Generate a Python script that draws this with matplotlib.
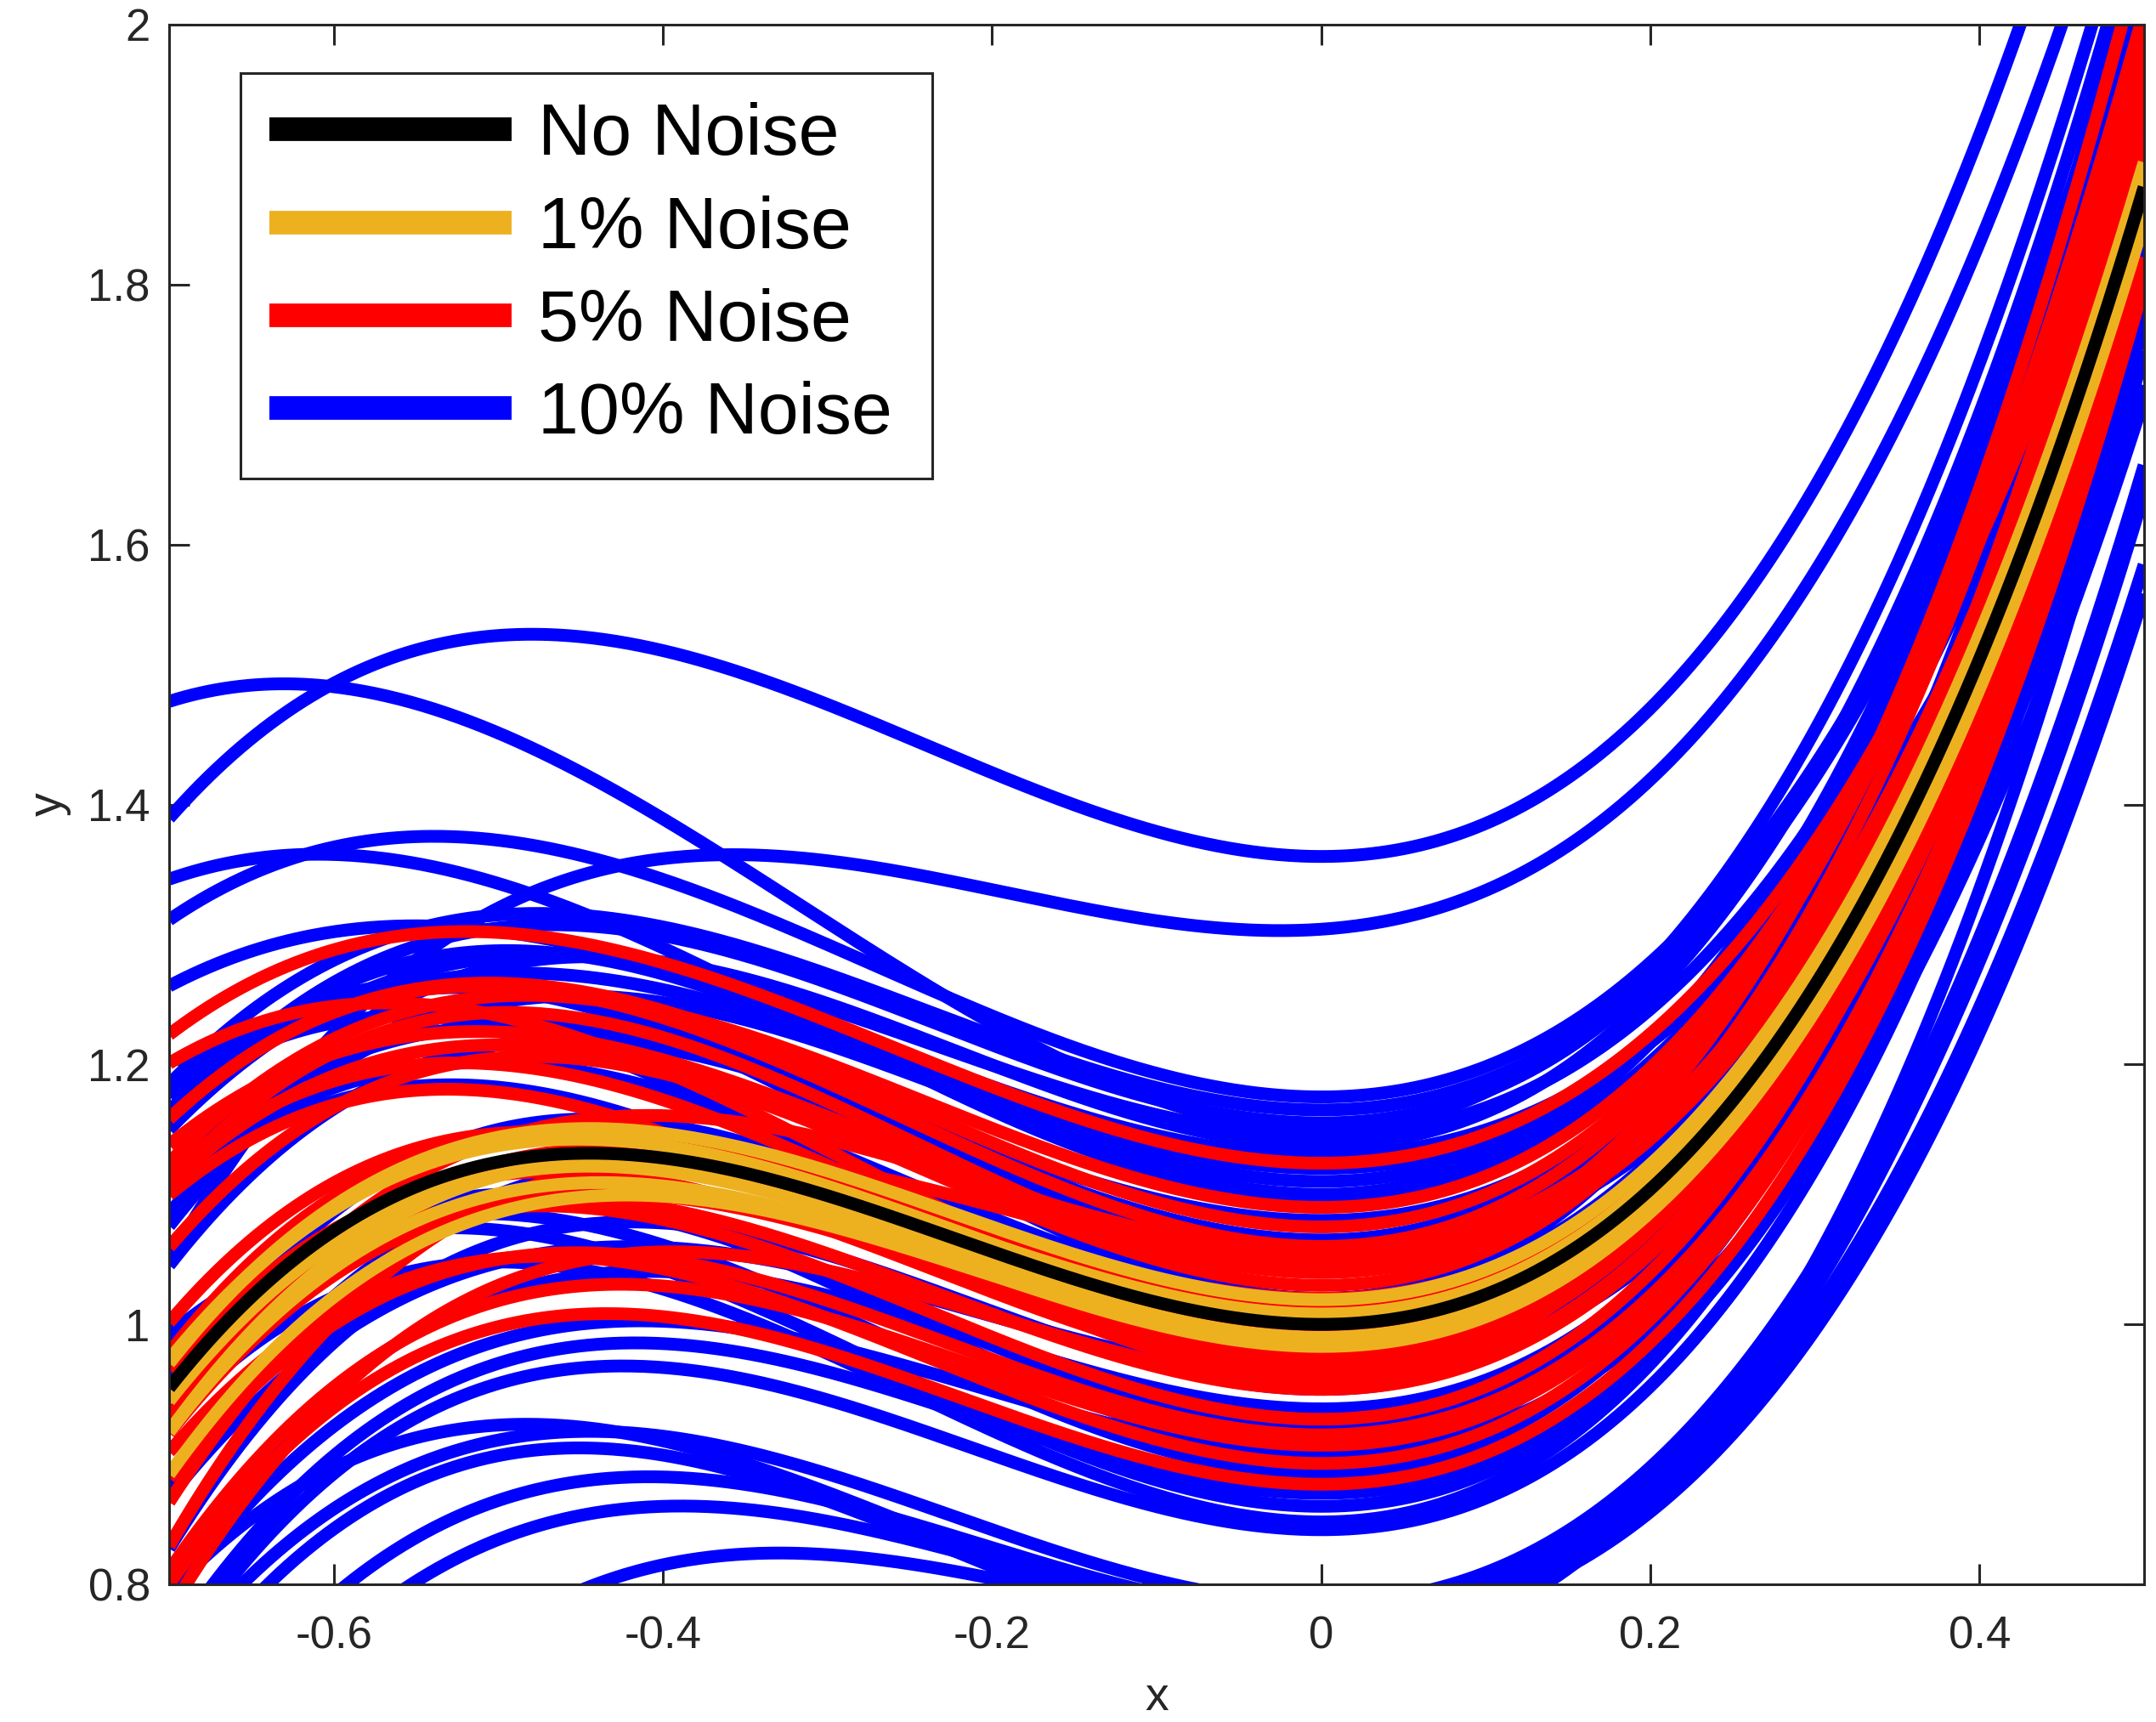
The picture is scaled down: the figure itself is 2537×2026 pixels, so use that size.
import numpy as np
import matplotlib
matplotlib.use("Agg")
from matplotlib import pyplot as plt
from matplotlib.lines import Line2D

plt.rcParams['font.family'] = ['Liberation Sans', 'DejaVu Sans']
plt.rcParams['axes.unicode_minus'] = False

# cubic fits, coefficients [c0, c1, c2, c3] for y = c0 + c1 x + c2 x^2 + c3 x^3
no_noise = [1.0, 0.0, 2.0, 3.0]

noise_1 = [
    [1.019, 0.0, 2.00, 3.00],
    [1.008, 0.0, 1.95, 3.05],
    [0.990, 0.0, 2.00, 3.00],
    [0.983, 0.0, 1.98, 3.02],
    [0.985, 0.0, 1.93, 3.05],
    [1.005, 0.0, 2.02, 2.98],
]

noise_5 = [
    [1.124, 0.0, 1.98, 2.54],
    [1.090, 0.0, 2.10, 2.90],
    [1.075, 0.0, 2.20, 2.90],
    [1.055, 0.0, 1.90, 3.10],
    [1.040, 0.0, 2.10, 2.80],
    [1.012, 0.0, 2.00, 3.10],
    [1.030, 0.0, 2.30, 3.20],
    [0.965, 0.0, 2.10, 3.00],
    [0.950, 0.0, 2.03, 2.90],
    [0.927, 0.0, 2.20, 3.10],
    [0.907, 0.0, 2.05, 3.21],
    [0.893, 0.0, 2.16, 3.06],
    [0.877, 0.0, 2.09, 3.21],
    [0.980, 0.0, 1.90, 2.90],
    [1.060, 0.0, 2.30, 3.00],
    [1.050, 0.0, 2.00, 2.60],
    [0.972, 0.0, 2.30, 3.20],
    [1.000, 0.0, 2.20, 2.80],
    [1.045, 0.0, 1.80, 3.20],
    [0.915, 0.0, 2.06, 3.04],
    [0.990, 0.0, 2.25, 3.25],
    [1.020, 0.0, 1.85, 3.10],
    [0.955, 0.0, 1.95, 3.30],
    [0.960, 0.0, 2.35, 2.95],
    [1.040, 0.0, 2.45, 3.30],
    [1.000, 0.0, 2.30, 2.70],
]

noise_10 = [
    [1.360, 0.000, 2.23, 3.10],
    [1.304, 0.085, 1.82, 3.17],
    [1.150, 0.000, 2.59, 2.74],
    [1.098, 0.000, 2.13, 2.33],
    [1.175, 0.000, 2.07, 2.56],
    [1.130, 0.000, 1.75, 2.12],
    [1.165, 0.000, 2.00, 2.80],
    [1.155, 0.000, 2.10, 3.00],
    [1.145, 0.000, 1.90, 2.70],
    [1.138, 0.000, 2.20, 3.30],
    [1.110, 0.000, 2.10, 3.10],
    [1.100, 0.000, 2.30, 3.10],
    [1.080, 0.000, 1.90, 2.60],
    [1.065, 0.000, 2.20, 3.20],
    [0.935, 0.000, 1.90, 3.10],
    [0.920, 0.000, 2.20, 3.00],
    [0.900, 0.000, 1.80, 2.90],
    [0.885, 0.000, 2.30, 3.00],
    [0.870, 0.000, 2.00, 3.20],
    [0.848, 0.000, 2.40, 3.20],
    [0.842, 0.000, 2.10, 3.30],
    [0.786, 0.000, 2.00, 3.00],
    [0.777, 0.000, 1.90, 3.10],
    [0.760, 0.000, 2.10, 2.90],
    [0.767, 0.000, 1.58, 3.20],
    [0.749, 0.000, 2.30, 3.40],
    [0.772, 0.000, 1.75, 3.00],
    [1.000, 0.000, 2.40, 3.60],
    [0.960, 0.000, 1.70, 2.70],
    [1.020, 0.000, 2.60, 3.30],
    [0.980, 0.000, 2.50, 3.00],
    [0.950, 0.000, 2.20, 3.50],
    [1.050, 0.000, 1.60, 2.80],
    [0.900, 0.000, 2.50, 3.40],
    [0.860, 0.000, 2.30, 2.90],
    [1.020, 0.000, 2.10, 2.75],
    [0.970, 0.000, 2.30, 2.90],
    [1.050, 0.000, 2.30, 2.90],
    [1.120, 0.000, 1.90, 2.60],
]

labels = ['No Noise', '1% Noise', '5% Noise', '10% Noise']
colors = ['black', '#EDB120', 'red', 'blue']

x_ticks = [-0.6, -0.4, -0.2, 0, 0.2, 0.4]
x_tick_labels = ['-0.6', '-0.4', '-0.2', '0', '0.2', '0.4']
y_ticks = [0.8, 1.0, 1.2, 1.4, 1.6, 1.8, 2.0]
y_tick_labels = ['0.8', '1', '1.2', '1.4', '1.6', '1.8', '2']

x = np.linspace(-0.7, 0.5, 500)


def cubic(c):
    return c[0] + c[1] * x + c[2] * x ** 2 + c[3] * x ** 3


W, H = 2537, 2026
fig = plt.figure(figsize=(W / 200, H / 200), dpi=200)
ax = fig.add_axes([199 / W, 1 - 1864 / H, (2523 - 199) / W, (1864 - 29) / H])

lw = 5.4
for c in noise_10:
    ax.plot(x, cubic(c), color=colors[3], lw=lw, solid_capstyle='butt')
for c in noise_5:
    ax.plot(x, cubic(c), color=colors[2], lw=lw, solid_capstyle='butt')
for c in noise_1:
    ax.plot(x, cubic(c), color=colors[1], lw=lw, solid_capstyle='butt')
ax.plot(x, cubic(no_noise), color=colors[0], lw=lw, solid_capstyle='butt')

ax.set_xlim(-0.7, 0.5)
ax.set_ylim(0.8, 2.0)
ax.set_xticks(x_ticks)
ax.set_xticklabels(x_tick_labels)
ax.set_yticks(y_ticks)
ax.set_yticklabels(y_tick_labels)

dark = '#262626'
for s in ax.spines.values():
    s.set_color(dark)
    s.set_linewidth(1.1)
ax.tick_params(direction='in', length=8.6, width=1.1, color=dark,
               labelcolor=dark, labelsize=19, top=True, right=True)
ax.tick_params(axis='x', pad=13)
ax.tick_params(axis='y', pad=8)
ax.set_xlabel('x', fontsize=20, color=dark, labelpad=8)
ax.set_ylabel('y', fontsize=20, color=dark, labelpad=7)

handles = [Line2D([0], [0], color=c, lw=10, solid_capstyle='butt') for c in colors]
leg = ax.legend(handles, labels, loc='upper left', mode='expand',
                bbox_to_anchor=(283 / W, 1 - 555 / H, (1097 - 283) / W, (555 - 86) / H),
                bbox_transform=fig.transFigure,
                borderaxespad=0, fontsize=31, handlelength=3.3, handletextpad=0.36,
                labelspacing=0.34, borderpad=0.4, fancybox=False, framealpha=1)
leg.get_frame().set_edgecolor(dark)
leg.get_frame().set_linewidth(1.1)

fig.savefig('out.png', dpi=200)
